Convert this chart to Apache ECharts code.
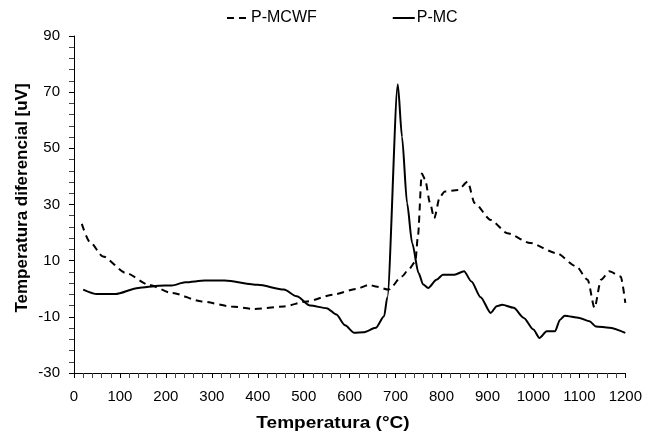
<!DOCTYPE html>
<html>
<head>
<meta charset="utf-8">
<script src="https://cdn.jsdelivr.net/npm/echarts@6/dist/echarts.min.js"></script>
<style>html,body{margin:0;padding:0;background:#fff}#c{width:645px;height:437px}</style>
</head>
<body>
<div id="c"></div>
<script>
const seriesNames = ['P-MCWF', 'P-MC'];
const xTitle = 'Temperatura (°C)';
const yTitle = 'Temperatura diferencial [uV]';
const pmcwf = [[17,23.1],[34,16.8],[63,11.5],[113,5.6],[163,1.4],[213,-1.5],[278,-4.5],[342,-6.3],[392,-7.2],[457,-6.3],[507,-4.5],[564,-2.1],[614,-0.1],[643,1.4],[657,0.8],[685,-0.3],[714,4.4],[728,6.8],[743,9.6],[748.5,18.6],[757,41],[764,39],[775,30.5],[784,25.1],[796.5,32.8],[807,34.6],[836,35.2],[857,38.1],[872,30.5],[907,24.5],[943,19.8],[993,16.3],[1050,12.7],[1093,8],[1118,3.2],[1133,-6.8],[1147,3.2],[1165,6.2],[1190,4.4],[1200,-5]];
const pmc = [[20,-0.3],[50,-1.9],[90,-1.9],[140,0.3],[185,1.1],[213,1.2],[242,2.3],[285,2.9],[328,2.9],[400,1.4],[457,-0.3],[485,-2.7],[514,-6],[550,-6.9],[571,-9.2],[590,-13],[610,-15.7],[630,-15.5],[657,-13.9],[675,-9.8],[682,-3],[704.8,72.8],[714,54],[725,30.5],[736,16.3],[750,5.6],[760,1.5],[771,0.3],[789,3.2],[803,5],[828,5],[849,6.2],[865,2.6],[885,-3],[907,-8.6],[920,-6.2],[932,-5.7],[957,-6.8],[979,-10.4],[1000,-14.5],[1013,-17.5],[1029,-15.1],[1047,-15.1],[1058,-11],[1068,-9.6],[1100,-10.4],[1122,-11.6],[1136,-13.4],[1165,-13.9],[1200,-15.7]];

const FONT = 'Liberation Sans, Arial, sans-serif';
const chart = echarts.init(document.getElementById('c'), null, {renderer: 'canvas'});
const axisCommon = {
  axisLine: {show: true, onZero: false, lineStyle: {color: '#000', width: 1}},
  axisTick: {show: true, inside: false, length: 5, lineStyle: {color: '#000'}},
  minorTick: {show: true, splitNumber: 5, length: 5, lineStyle: {color: '#444'}},
  splitLine: {show: false},
  axisLabel: {color: '#000', fontSize: 15, fontFamily: FONT, formatter: function (v) { return String(v); }}
};
chart.setOption({
  animation: false,
  backgroundColor: '#fff',
  grid: {left: 74, right: 12, top: 36, bottom: 64, containLabel: false},
  legend: {
    left: 221, top: 5, itemWidth: 22, itemHeight: 14, itemGap: 75,
    itemStyle: {opacity: 0},
    textStyle: {fontSize: 16, fontFamily: FONT, color: '#000', padding: [0,0,0,-3]},
    data: seriesNames
  },
  xAxis: Object.assign({}, axisCommon, {
    type: 'value', min: 0, max: 1200, interval: 100,
    axisLabel: Object.assign({}, axisCommon.axisLabel, {margin: 16})
  }),
  yAxis: Object.assign({}, axisCommon, {
    type: 'value', min: -30, max: 90, interval: 20,
    axisLabel: Object.assign({}, axisCommon.axisLabel, {margin: 14})
  }),
  graphic: [
    {type: 'text', x: 333, y: 423, scaleX: 1.12, style: {text: xTitle, font: 'bold 17px ' + FONT, fill: '#000', align: 'center', verticalAlign: 'middle'}},
    {type: 'text', x: 22, y: 198, rotation: Math.PI / 2, style: {text: yTitle, font: 'bold 17px ' + FONT, fill: '#000', align: 'center', verticalAlign: 'middle'}}
  ],
  series: [
    {name: seriesNames[0], type: 'line', data: pmcwf, symbol: 'none', smooth: 0.25, smoothMonotone: 'x',
     lineStyle: {color: '#000', width: 2, type: [7, 5]}, itemStyle: {color: '#000'}},
    {name: seriesNames[1], type: 'line', data: pmc, symbol: 'none', smooth: 0.25, smoothMonotone: 'x',
     lineStyle: {color: '#000', width: 2, type: 'solid'}, itemStyle: {color: '#000'}}
  ]
});
</script>
</body>
</html>
